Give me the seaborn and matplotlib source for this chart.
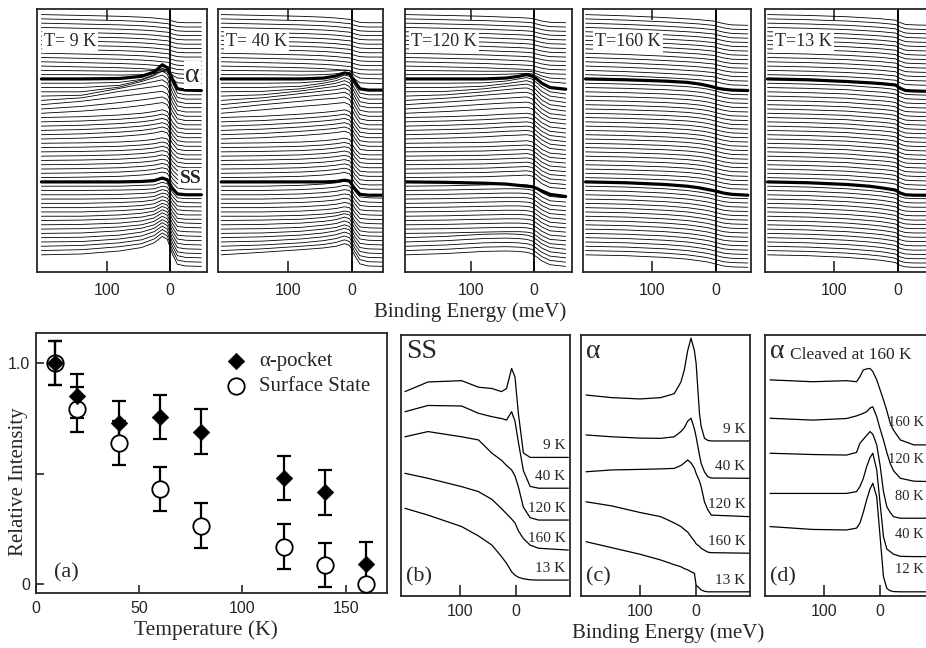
import pandas as pd
import matplotlib
matplotlib.use("Agg")
import matplotlib.pyplot as plt
import matplotlib.transforms as mtransforms
import seaborn as sns

# ---------------- top row: stacked EDCs, 57 cuts per temperature ----------------
# values in units of the curve spacing, relative to the left end of each curve
top_titles = ['T= 9 K', 'T= 40 K', 'T=120 K', 'T=160 K', 'T=13 K']
top_energy = [204, 140, 80, 45, 25, 12, 4, -4, -12, -25, -50]
alpha_curve = 41   # thick curve through the alpha pocket
ss_curve = 17      # thick curve through the surface state

# (number of consecutive curves, shape), listed from the bottom curve upwards
edc_9K = [
    (1, [0, 0.2, 0.9, 1.7, 2.8, 4.3, 3.6, 0.2, -2.2, -2.6, -2.7]),
    (1, [0, 0.2, 0.9, 1.6, 2.7, 4.1, 3.4, 0.1, -2.2, -2.6, -2.7]),
    (1, [0, 0.2, 0.8, 1.5, 2.5, 3.9, 3.2, 0.0, -2.2, -2.6, -2.7]),
    (1, [0, 0.1, 0.7, 1.4, 2.4, 3.7, 3.0, -0.1, -2.3, -2.6, -2.7]),
    (1, [0, 0.1, 0.6, 1.3, 2.2, 3.5, 2.8, -0.2, -2.3, -2.6, -2.7]),
    (1, [0, 0.1, 0.6, 1.2, 2.0, 3.2, 2.6, -0.3, -2.3, -2.6, -2.7]),
    (1, [0, 0.1, 0.5, 1.0, 1.8, 3.0, 2.4, -0.4, -2.3, -2.6, -2.7]),
    (1, [0, 0.1, 0.4, 0.9, 1.6, 2.8, 2.2, -0.5, -2.4, -2.6, -2.7]),
    (1, [0, 0.1, 0.4, 0.8, 1.4, 2.5, 2.0, -0.6, -2.4, -2.6, -2.7]),
    (1, [0, 0.0, 0.3, 0.7, 1.2, 2.3, 1.8, -0.7, -2.4, -2.6, -2.7]),
    (1, [0, 0.0, 0.3, 0.6, 1.0, 2.0, 1.6, -0.8, -2.4, -2.6, -2.7]),
    (1, [0, 0.0, 0.2, 0.5, 0.9, 1.8, 1.4, -0.9, -2.5, -2.7, -2.7]),
    (1, [0, 0.0, 0.2, 0.4, 0.8, 1.6, 1.2, -1.0, -2.5, -2.7, -2.7]),
    (1, [0, 0.0, 0.1, 0.3, 0.6, 1.4, 1.1, -1.1, -2.5, -2.7, -2.8]),
    (1, [0, 0.0, 0.1, 0.3, 0.5, 1.2, 0.9, -1.2, -2.6, -2.8, -2.8]),
    (1, [0, 0.0, 0.1, 0.2, 0.4, 1.0, 0.8, -1.3, -2.6, -2.8, -2.9]),
    (1, [0, 0.0, 0.0, 0.2, 0.3, 0.9, 0.6, -1.4, -2.7, -2.9, -2.9]),
    (1, [0, 0.0, 0.0, 0.1, 0.3, 0.9, 0.5, -1.5, -2.8, -3.0, -3.0]),
    (9, [0, 0.1, 0.3, 0.6, 0.9, 1.3, 1.0, -1.2, -2.4, -2.7, -2.7]),
    (6, [0, 0.2, 0.6, 1.0, 1.4, 1.8, 1.4, -1.0, -2.4, -2.7, -2.7]),
    (1, [0, 0.5, 1.2, 1.8, 2.2, 2.5, 2.0, -0.6, -2.3, -2.7, -2.7]),
    (1, [0, 0.6, 1.5, 2.1, 2.5, 2.8, 2.2, -0.5, -2.3, -2.7, -2.7]),
    (1, [0, 0.8, 1.9, 2.5, 2.9, 3.1, 2.5, -0.4, -2.3, -2.7, -2.7]),
    (1, [0, 0.6, 2.1, 2.8, 3.2, 3.5, 2.8, -0.3, -2.3, -2.7, -2.7]),
    (1, [0, 0.2, 1.8, 2.8, 3.4, 3.8, 3.0, -0.2, -2.3, -2.7, -2.7]),
    (1, [0, 0.0, 1.1, 2.4, 3.3, 3.9, 3.1, -0.1, -2.3, -2.7, -2.7]),
    (1, [0, 0.0, 0.5, 1.7, 2.8, 3.8, 3.1, 0.0, -2.3, -2.7, -2.7]),
    (1, [0, 0.0, 0.2, 0.9, 2.0, 3.5, 2.9, 0.1, -2.3, -2.7, -2.7]),
    (1, [0, 0.0, 0.1, 0.6, 1.6, 3.3, 2.6, 0.0, -2.3, -2.6, -2.7]),
    (1, [0, 0.0, -0.1, 0.0, 0.3, 0.8, 0.6, -1.0, -1.9, -2.0, -2.1]),
    (1, [0, -0.1, -0.2, -0.2, 0.0, 0.3, 0.2, -1.1, -1.8, -1.9, -2.0]),
    (13, [0, -0.2, -0.4, -0.6, -0.8, -1.0, -1.1, -1.5, -1.8, -1.9, -1.9]),
]

edc_40K = [
    (1, [0, 0.6, 1.2, 1.6, 2.0, 2.6, 2.2, -0.2, -2.1, -2.6, -2.7]),
    (1, [0, 0.4, 1.0, 1.4, 1.9, 2.5, 2.1, -0.3, -2.1, -2.6, -2.7]),
    (1, [0, 0.3, 0.8, 1.3, 1.8, 2.4, 2.0, -0.4, -2.2, -2.6, -2.7]),
    (1, [0, 0.2, 0.7, 1.2, 1.7, 2.3, 1.9, -0.5, -2.2, -2.6, -2.7]),
    (1, [0, 0.2, 0.6, 1.1, 1.6, 2.2, 1.8, -0.6, -2.3, -2.6, -2.7]),
    (1, [0, 0.1, 0.5, 1.0, 1.4, 2.0, 1.6, -0.7, -2.3, -2.6, -2.7]),
    (1, [0, 0.1, 0.4, 0.9, 1.3, 1.9, 1.5, -0.8, -2.3, -2.6, -2.7]),
    (1, [0, 0.1, 0.4, 0.8, 1.2, 1.8, 1.4, -0.8, -2.4, -2.6, -2.7]),
    (1, [0, 0.1, 0.3, 0.7, 1.1, 1.6, 1.3, -0.9, -2.4, -2.7, -2.7]),
    (8, [0, 0.0, 0.2, 0.5, 0.8, 1.2, 1.0, -1.1, -2.5, -2.7, -2.8]),
    (1, [0, 0.0, 0.0, 0.0, 0.1, 0.4, 0.2, -1.6, -2.9, -3.1, -3.1]),
    (9, [0, 0.1, 0.3, 0.6, 0.9, 1.2, 0.9, -1.2, -2.5, -2.7, -2.7]),
    (6, [0, 0.3, 0.8, 1.2, 1.5, 1.8, 1.4, -0.8, -2.4, -2.7, -2.7]),
    (1, [0, 0.8, 1.6, 2.0, 2.3, 2.5, 2.0, -0.5, -2.3, -2.7, -2.7]),
    (1, [0, 1.0, 1.8, 2.3, 2.5, 2.8, 2.2, -0.4, -2.3, -2.7, -2.7]),
    (1, [0, 0.9, 1.8, 2.3, 2.6, 2.9, 2.3, -0.3, -2.3, -2.7, -2.7]),
    (1, [0, 0.6, 1.6, 2.2, 2.5, 2.9, 2.3, -0.2, -2.3, -2.7, -2.7]),
    (1, [0, 0.3, 1.2, 1.9, 2.3, 2.8, 2.2, -0.2, -2.3, -2.7, -2.7]),
    (1, [0, 0.1, 0.7, 1.5, 2.0, 2.6, 2.1, -0.2, -2.3, -2.7, -2.7]),
    (1, [0, 0.0, 0.3, 1.0, 1.6, 2.3, 1.9, -0.3, -2.3, -2.7, -2.7]),
    (1, [0, 0.0, 0.1, 0.5, 1.1, 1.9, 1.6, -0.4, -2.3, -2.7, -2.7]),
    (1, [0, 0.0, 0.0, 0.2, 0.7, 1.4, 1.2, -0.6, -2.3, -2.6, -2.6]),
    (1, [0, 0.0, -0.1, 0.0, 0.2, 0.5, 0.4, -1.0, -1.9, -2.0, -2.1]),
    (1, [0, -0.1, -0.2, -0.2, -0.1, 0.1, 0.0, -1.2, -1.8, -1.9, -2.0]),
    (13, [0, -0.2, -0.4, -0.6, -0.8, -1.0, -1.1, -1.5, -1.8, -1.9, -1.9]),
]

edc_120K = [
    (5, [0, 0.3, 0.8, 0.9, 0.8, 0.6, 0.3, -0.5, -1.4, -2.3, -2.7]),
    (12, [0, 0.1, 0.3, 0.4, 0.4, 0.3, 0.1, -0.6, -1.5, -2.4, -2.7]),
    (1, [0, -0.1, -0.3, -0.5, -0.8, -1.0, -1.1, -1.5, -2.1, -2.9, -3.4]),
    (9, [0, 0.1, 0.2, 0.4, 0.5, 0.6, 0.4, -0.4, -1.4, -2.3, -2.6]),
    (6, [0, 0.2, 0.5, 0.8, 0.9, 1.0, 0.8, -0.2, -1.2, -2.2, -2.6]),
    (1, [0, 0.4, 0.9, 1.2, 1.3, 1.4, 1.1, 0.0, -1.1, -2.1, -2.5]),
    (1, [0, 0.5, 1.1, 1.4, 1.5, 1.6, 1.3, 0.1, -1.0, -2.1, -2.5]),
    (1, [0, 0.6, 1.2, 1.5, 1.7, 1.8, 1.4, 0.2, -1.0, -2.1, -2.5]),
    (1, [0, 0.5, 1.2, 1.6, 1.8, 1.9, 1.5, 0.3, -0.9, -2.0, -2.5]),
    (1, [0, 0.3, 1.0, 1.5, 1.8, 1.9, 1.5, 0.3, -0.9, -2.0, -2.5]),
    (1, [0, 0.1, 0.7, 1.3, 1.6, 1.8, 1.4, 0.3, -0.9, -2.0, -2.5]),
    (1, [0, 0.0, 0.3, 0.9, 1.3, 1.6, 1.2, 0.2, -0.9, -2.0, -2.5]),
    (1, [0, 0.0, 0.1, 0.5, 1.0, 1.3, 1.0, 0.1, -0.9, -2.0, -2.5]),
    (1, [0, 0.0, 0.0, 0.2, 0.6, 1.0, 0.7, 0.0, -1.0, -2.0, -2.4]),
    (1, [0, 0.0, 0.0, 0.1, 0.2, 0.3, 0.2, -0.4, -1.0, -1.7, -2.0]),
    (1, [0, -0.1, -0.2, -0.2, -0.2, -0.2, -0.3, -0.8, -1.3, -1.8, -2.0]),
    (13, [0, -0.2, -0.4, -0.6, -0.7, -0.8, -0.9, -1.2, -1.5, -1.8, -1.9]),
]

edc_160K = [
    (17, [0, -0.2, -0.6, -1.0, -1.4, -1.7, -2.0, -2.3, -2.6, -2.8, -2.9]),
    (1, [0, -0.2, -0.6, -1.0, -1.4, -1.8, -2.0, -2.3, -2.6, -2.9, -3.1]),
    (23, [0, -0.2, -0.5, -0.8, -1.1, -1.4, -1.7, -2.0, -2.3, -2.6, -2.7]),
    (1, [0, -0.2, -0.5, -0.8, -1.2, -1.6, -1.9, -2.2, -2.4, -2.6, -2.7]),
    (15, [0, -0.3, -0.7, -1.0, -1.2, -1.4, -1.5, -1.8, -2.1, -2.4, -2.5]),
]

edc_13K = [
    (17, [0, -0.2, -0.6, -1.0, -1.3, -1.6, -1.8, -2.5, -2.8, -2.9, -2.9]),
    (1, [0, -0.2, -0.6, -1.0, -1.4, -1.7, -1.9, -2.6, -3.0, -3.1, -3.1]),
    (23, [0, -0.2, -0.5, -0.9, -1.1, -1.3, -1.5, -2.2, -2.6, -2.7, -2.8]),
    (1, [0, -0.2, -0.6, -0.9, -1.1, -1.3, -1.4, -2.2, -2.7, -2.8, -2.9]),
    (15, [0, -0.2, -0.5, -0.8, -1.0, -1.2, -1.3, -1.9, -2.3, -2.4, -2.5]),
]

top_edcs = [edc_9K, edc_40K, edc_120K, edc_160K, edc_13K]

# ---------------- panel (a): relative intensity vs temperature ----------------
temps = [9, 20, 40, 60, 80, 120, 140, 160]
alpha_int = [1.0, 0.85, 0.73, 0.755, 0.69, 0.48, 0.415, 0.09]
alpha_err = [0.1, 0.1, 0.1, 0.1, 0.1, 0.1, 0.1, 0.1]
ss_int = [1.0, 0.79, 0.64, 0.43, 0.265, 0.17, 0.085, 0.0]
ss_err = [0.1, 0.1, 0.1, 0.1, 0.1, 0.1, 0.1, 0.0]

# ---------------- panels (b)-(d): EDCs at k_F ----------------
b_energy = [198, 157, 97, 67, 43, 26, 17, 8, 2, -4, -13, -25, -40, -93]
b_labels = ['9 K', '40 K', '120 K', '160 K', '13 K']
b_edcs = [
    [7.83, 8.20, 8.25, 8.00, 7.95, 7.83, 7.95, 8.72, 8.40, 7.00, 5.48, 5.31, 5.31, 5.31],
    [7.06, 7.30, 7.28, 7.00, 6.87, 6.80, 6.74, 7.06, 6.70, 5.90, 4.80, 4.20, 4.13, 4.13],
    [6.10, 6.30, 6.10, 5.98, 5.47, 5.20, 5.00, 4.83, 4.60, 4.19, 3.40, 3.00, 2.91, 2.91],
    [4.70, 4.51, 4.19, 4.00, 3.70, 3.35, 3.15, 2.95, 2.80, 2.50, 2.20, 1.95, 1.83, 1.76],
    [3.36, 3.10, 2.66, 2.30, 1.95, 1.51, 1.25, 0.93, 0.80, 0.72, 0.66, 0.62, 0.61, 0.61],
]

c_energy = [196, 150, 100, 63, 39, 27, 21, 15, 9, 3, 0, -6, -9, -15, -21, -27, -95]
c_labels = ['9 K', '40 K', '120 K', '160 K', '13 K']
c_edcs = [
    [7.70, 7.60, 7.55, 7.60, 7.75, 8.20, 8.66, 9.40, 9.88, 9.40, 8.92, 7.00, 6.50, 6.04, 5.96, 5.94, 5.94],
    [6.17, 6.10, 6.05, 6.04, 6.10, 6.30, 6.45, 6.70, 6.81, 6.40, 6.10, 5.40, 5.08, 4.75, 4.57, 4.52, 4.51],
    [4.76, 4.83, 4.85, 4.87, 4.89, 5.00, 5.10, 5.21, 5.10, 4.89, 4.70, 4.40, 4.19, 3.60, 3.30, 3.10, 3.04],
    [3.61, 3.45, 3.20, 3.04, 2.80, 2.66, 2.55, 2.45, 2.27, 2.10, 2.00, 1.90, 1.83, 1.75, 1.68, 1.66, 1.64],
    [2.08, 1.85, 1.60, 1.38, 1.20, 1.12, 1.05, 1.00, 0.93, 0.87, 0.42, 0.30, 0.23, 0.18, 0.16, 0.16, 0.16],
]

d_energy = [196, 120, 60, 42, 36, 30, 24, 18, 13, 6, 0, -6, -12, -18, -24, -36, -60, -95]
d_labels = ['160 K', '120 K', '80 K', '40 K', '12 K']
d_edcs = [
    [8.28, 8.21, 8.25, 8.21, 8.40, 8.66, 8.70, 8.72, 8.60, 8.28, 7.90, 7.51, 7.10, 6.62, 6.35, 5.98, 5.79, 5.79],
    [6.81, 6.74, 6.80, 6.90, 6.95, 7.00, 7.06, 7.20, 7.25, 6.87, 6.40, 5.98, 5.50, 5.08, 4.80, 4.51, 4.40, 4.38],
    [5.47, 5.42, 5.40, 5.50, 5.85, 6.00, 6.15, 6.30, 6.20, 5.79, 5.00, 4.00, 3.42, 3.20, 3.04, 2.98, 2.98, 2.98],
    [3.93, 3.93, 3.93, 4.00, 4.19, 4.50, 4.95, 5.30, 5.47, 4.83, 3.55, 2.27, 1.80, 1.70, 1.60, 1.52, 1.51, 1.51],
    [2.66, 2.55, 2.53, 2.60, 2.79, 3.20, 3.68, 4.10, 4.32, 3.80, 2.27, 0.74, 0.29, 0.20, 0.17, 0.16, 0.16, 0.16],
]

# ---------------- style ----------------
sns.set_style("ticks")
plt.rcParams['font.family'] = ['Liberation Serif', 'DejaVu Serif']
plt.rcParams['axes.linewidth'] = 1.3
SANS = 'Liberation Sans'
TICK_SIZE = 11.5

W, H = 926, 648
fig = plt.figure(figsize=(W / 100, H / 100), dpi=100)


def px_axes(x0, y0, x1, y1):
    # axes from pixel box (left, top, right, bottom)
    return fig.add_axes([x0 / W, 1 - y1 / H, (x1 - x0) / W, (y1 - y0) / H])


def expand(groups):
    rows = []
    for n, row in groups:
        rows.extend([row] * n)
    return rows


def sans_ticks(ax):
    for t in ax.get_xticklabels() + ax.get_yticklabels():
        t.set_fontfamily(SANS)


# ---------------- top row ----------------
top_boxes = [(37, 9, 207, 272), (218, 9, 383, 272), (405, 9, 572, 272),
             (583, 9, 751, 272), (765, 9, 933, 272)]
top_xlims = [(211, -59), (209, -48), (205, -60), (208, -55), (208, -55)]
title_x = [0.04, 0.05, 0.035, 0.07, 0.06]

for k, box in enumerate(top_boxes):
    ax = px_axes(*box)
    rows = expand(top_edcs[k])
    recs = []
    for i, row in enumerate(rows):
        for e, v in zip(top_energy, row):
            recs.append((i, e, v + 4.0 + i))
    df = pd.DataFrame(recs, columns=['curve', 'E', 'I'])
    bold = df['curve'].isin([alpha_curve, ss_curve])
    sns.lineplot(data=df[~bold], x='E', y='I', units='curve', estimator=None,
                 color='black', lw=0.6, sort=False, legend=False, ax=ax)
    sns.lineplot(data=df[bold], x='E', y='I', units='curve', estimator=None,
                 color='black', lw=2.3, sort=False, legend=False, ax=ax)
    ax.axvline(0, color='black', lw=1.3)
    ax.set_xlim(*top_xlims[k])
    ax.set_ylim(0, 61.3)
    ax.set_yticks([])
    ax.set_xticks([100, 0], labels=['100', '0'])
    ax.tick_params(axis='x', direction='in', top=True, length=8, width=1.2,
                   labelsize=TICK_SIZE, pad=8)
    sans_ticks(ax)
    ax.set_xlabel('')
    ax.set_ylabel('')
    ax.text(title_x[k], 0.875, top_titles[k], transform=ax.transAxes, fontsize=13,
            va='center', ha='left', bbox=dict(facecolor='white', edgecolor='none', pad=1.5))
    if k == 0:
        ax.text(-36, 45.9, 'α', fontsize=20, ha='center', va='center',
                bbox=dict(facecolor='white', edgecolor='none', pad=1))
        ax.text(-33, 21.9, 'SS', fontsize=14, fontweight='bold', ha='center', va='center',
                bbox=dict(facecolor='white', edgecolor='none', pad=1))

fig.text(0.508, 0.519, 'Binding Energy (meV)', fontsize=15, ha='center', va='center')

# ---------------- panel (a) ----------------
ax = px_axes(36, 333, 387, 593)
ax.errorbar(temps, alpha_int, yerr=alpha_err, fmt='none', ecolor='black',
            elinewidth=1.6, capsize=5, capthick=1.6, zorder=2)
ss_mask = [e > 0 for e in ss_err]
ax.errorbar([t for t, m in zip(temps, ss_mask) if m], [v for v, m in zip(ss_int, ss_mask) if m],
            yerr=[e for e, m in zip(ss_err, ss_mask) if m], fmt='none', ecolor='black',
            elinewidth=1.6, capsize=5, capthick=1.6, zorder=2)
sns.scatterplot(x=temps, y=ss_int, marker='o', s=140, color='white', edgecolor='black',
                linewidth=1.3, label='Surface State', zorder=3, ax=ax)
sns.scatterplot(x=temps, y=alpha_int, marker='D', s=70, color='black', edgecolor='black',
                linewidth=0.5, label='α-pocket', zorder=4, ax=ax)
ax.set_xlim(0, 170)
ax.set_ylim(-0.04, 1.136)
ax.set_xticks([0, 50, 100, 150], labels=['0', '50', '100', '150'])
ax.set_yticks([0, 0.5, 1.0], labels=['0', '', '1.0'])
ax.tick_params(direction='in', length=6, width=1.2, labelsize=TICK_SIZE)
ax.tick_params(axis='x', pad=6)
ax.tick_params(axis='y', pad=4)
sans_ticks(ax)
handles, labels = ax.get_legend_handles_labels()
ax.legend(handles[::-1], labels[::-1], loc='upper left', bbox_to_anchor=(0.51, 0.96),
          frameon=False, fontsize=15, handletextpad=0.5, labelspacing=0.25,
          borderaxespad=0, handlelength=1.2)
ax.text(0.05, 0.04, '(a)', transform=ax.transAxes, fontsize=16, ha='left', va='bottom')
fig.text(0.222, 0.027, 'Temperature (K)', fontsize=15.5, ha='center', va='center')
fig.text(0.02, 0.256, 'Relative Intensity', fontsize=15, rotation=90, ha='center', va='center')

# ---------------- panels (b), (c), (d) ----------------
bottom_boxes = [(401, 335, 570, 596), (581, 335, 750, 596), (765, 335, 934, 596)]
panels = [
    (b_energy, b_edcs, b_labels, 'SS', '(b)'),
    (c_energy, c_edcs, c_labels, 'α', '(c)'),
    (d_energy, d_edcs, d_labels, 'α', '(d)'),
]

for k, (energy, edcs, labels, name, tag) in enumerate(panels):
    ax = px_axes(*bottom_boxes[k])
    recs = []
    for i, row in enumerate(edcs):
        for e, v in zip(energy, row):
            recs.append((labels[i], e, v))
    df = pd.DataFrame(recs, columns=['T', 'E', 'I'])
    sns.lineplot(data=df, x='E', y='I', units='T', estimator=None, color='black',
                 lw=0.9, sort=False, legend=False, ax=ax)
    ax.set_xlim(205, -96)
    ax.set_ylim(0, 10)
    ax.set_yticks([])
    ax.set_xticks([100, 0], labels=['100', '0'])
    ax.tick_params(axis='x', direction='in', length=8, width=1.2, labelsize=TICK_SIZE, pad=6)
    sans_ticks(ax)
    ax.set_xlabel('')
    ax.set_ylabel('')
    edge = mtransforms.blended_transform_factory(fig.transFigure, ax.transData)
    for i, row in enumerate(edcs):
        if k < 2:
            ax.text(-88, row[-1] + 0.2, labels[i], fontsize=11, ha='right', va='bottom')
        else:
            ax.text(924 / W, row[-1] + 0.6, labels[i], fontsize=10.5, ha='right',
                    va='bottom', transform=edge)
    ax.text(0.03, 0.985, name, transform=ax.transAxes, fontsize=20, ha='left', va='top')
    ax.text(0.03, 0.035, tag, transform=ax.transAxes, fontsize=16, ha='left', va='bottom')
    if k == 2:
        ax.text(0.15, 0.955, 'Cleaved at 160 K', transform=ax.transAxes, fontsize=12.5,
                ha='left', va='top')

fig.text(0.721, 0.023, 'Binding Energy (meV)', fontsize=15, ha='center', va='center')

fig.savefig('out.png', dpi=100)
